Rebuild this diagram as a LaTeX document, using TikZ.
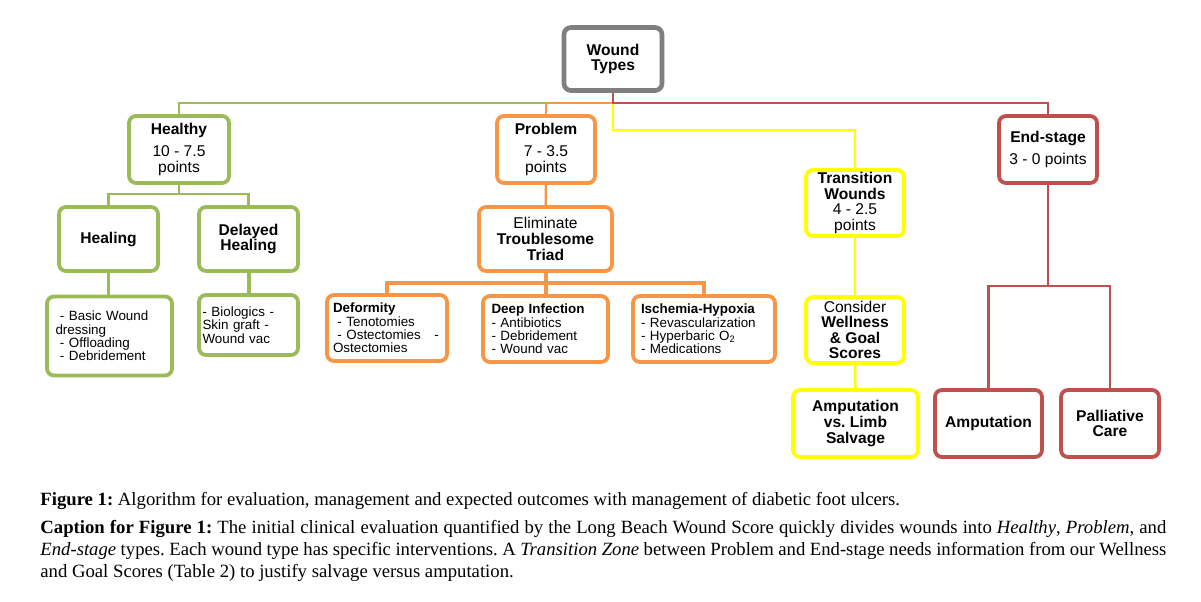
\documentclass[tikz,border=0pt]{standalone}
\usepackage{fontspec}
\setmainfont{Liberation Serif}
\setsansfont{Liberation Sans}
\definecolor{healthygreen}{HTML}{9BBB59}
\definecolor{problemorange}{HTML}{F79646}
\definecolor{transyellow}{HTML}{FFFF00}
\definecolor{endred}{HTML}{C0504D}
\definecolor{rootgray}{HTML}{7F7F7F}
\frenchspacing

\begin{document}
\begin{tikzpicture}[x=0.5pt, y=-0.5pt,
    box/.style={draw, rounded corners=3.5pt, line width=1.9pt, fill=white,
                align=center, inner sep=1pt,
                font=\sffamily\fontsize{7.8}{7.8}\selectfont},
    listbox/.style={box, align=left, font=\sffamily\fontsize{6.7}{6.7}\selectfont},
    rootbox/.style={box, draw=rootgray, line width=2.3pt},
    healthybox/.style={box, draw=healthygreen},
    problembox/.style={box, draw=problemorange},
    transbox/.style={box, draw=transyellow},
    endbox/.style={box, draw=endred},
    glink/.style={draw=healthygreen, line width=1.2pt},
    olink/.style={draw=problemorange, line width=1.2pt},
    othick/.style={draw=problemorange, line width=2pt},
    ylink/.style={draw=transyellow, line width=1.2pt},
    rlink/.style={draw=endred, line width=1.2pt},
    caption/.style={anchor=base west, inner sep=0pt, font=\fontsize{9.35}{11}\selectfont}]
  \useasboundingbox (0,0) rectangle (1201,601);
  \fill[white] (0,0) rectangle (1201,601);

  \coordinate (hub) at (613,103);
  \coordinate (hsplit) at (179,194);
  \coordinate (tsplit) at (546,283);
  \coordinate (esplit) at (1048,286);

  \draw[glink] (179,116) |- (546,103);
  \draw[olink] (546,116) |- (hub);
  \draw[ylink] (hub) -- ++(0,27) -| (855,170);
  \draw[rlink] (613,92) -- (hub) -| (1048,116);

  \node[rootbox, minimum width=49pt, minimum height=31.5pt] (root) at (613,59)
    {\textbf{Wound}\\\textbf{Types}};

  \node[healthybox, minimum width=50pt, minimum height=33.5pt] (healthy) at (179,149.5)
    {\textbf{Healthy}\\[3pt]10 - 7.5\\points};
  \node[problembox, minimum width=49pt, minimum height=33.5pt] (problem) at (546,149.5)
    {\textbf{Problem}\\[3pt]7 - 3.5\\points};
  \node[endbox, minimum width=49pt, minimum height=33.5pt] (endst) at (1048,149.5)
    {\textbf{End-stage}\\[3pt]3 - 0 points};
  \node[transbox, minimum width=49pt, minimum height=33pt, inner sep=0pt] (trans) at (855,203)
    {\textbf{Transition}\\\textbf{Wounds}\\4 - 2.5\\points};

  \node[healthybox, minimum width=49.5pt, minimum height=32pt] (healing) at (108.5,239)
    {\textbf{Healing}};
  \node[healthybox, minimum width=49.5pt, minimum height=32pt] (delayed) at (248.5,239)
    {\textbf{Delayed}\\\textbf{Healing}};
  \node[listbox, draw=healthygreen, minimum width=62.5pt, minimum height=39.5pt,
        text width=54pt] (healsub) at (109.5,336)
    {\ - Basic Wound\\dressing\\\ - Offloading\\\ - Debridement};
  \node[listbox, draw=healthygreen, minimum width=49.5pt, minimum height=30pt,
        text width=46pt] (delsub) at (248.5,325)
    {- Biologics -\\Skin graft -\\Wound vac};

  \node[problembox, minimum width=66.5pt, minimum height=32pt] (triad) at (545.5,239)
    {Eliminate\\\textbf{Troublesome}\\\textbf{Triad}};
  \node[listbox, draw=problemorange, minimum width=60pt, minimum height=33pt,
        text width=54pt] (deform) at (387,328)
    {\textbf{Deformity}\\\ - Tenotomies\\\ - Ostectomies\ \ \ -\\Ostectomies};
  \node[listbox, draw=problemorange, minimum width=62.5pt, minimum height=33pt,
        text width=54pt] (deepinf) at (545.5,329)
    {\textbf{Deep Infection}\\- Antibiotics\\- Debridement\\- Wound vac};
  \node[listbox, draw=problemorange, minimum width=71pt, minimum height=33pt,
        text width=63pt] (ischem) at (704,329)
    {\textbf{Ischemia-Hypoxia}\\- Revascularization\\- Hyperbaric O\textsubscript{2}\\- Medications};

  \node[transbox, minimum width=49pt, minimum height=33pt, inner sep=0pt] (consider) at (855,330)
    {Consider\\\textbf{Wellness}\\\textbf{\& Goal}\\\textbf{Scores}};
  \node[transbox, minimum width=62.5pt, minimum height=33.5pt] (ampvs) at (855.5,423.5)
    {\textbf{Amputation}\\\textbf{vs. Limb}\\\textbf{Salvage}};

  \node[endbox, minimum width=53.5pt, minimum height=33.5pt] (amput) at (988.5,423.5)
    {\textbf{Amputation}};
  \node[endbox, minimum width=49pt, minimum height=33.5pt] (palli) at (1110,423.5)
    {\textbf{Palliative}\\\textbf{Care}};

  \draw[glink] (healthy.south) -- (hsplit);
  \draw[glink] (healing.north) |- (hsplit) -| (delayed.north);
  \draw[glink] (healing.south) -- (healing.south |- healsub.north);
  \draw[glink, line width=2pt] (delayed.south) -- (delsub.north);

  \draw[olink] (problem) -- (triad);
  \draw[othick] (triad.south) -- (deepinf.north);
  \draw[othick] (deform.north) |- (tsplit) -| (ischem.north);

  \draw[ylink] (trans) -- (consider);
  \draw[ylink] (consider) -- (ampvs);

  \draw[rlink] (endst.south) -- (esplit);
  \draw[rlink] (amput.north) |- (esplit) -| (palli.north);

  \node[caption] (capA) at (40,505)
    {\textbf{Figure 1:} Algorithm for evaluation, management and expected outcomes with management of diabetic foot ulcers.};
  \node[caption] (capB) at (40,533)
    {\makebox[563pt][s]{\textbf{Caption for Figure 1:} The initial clinical evaluation quantified by the Long Beach Wound Score quickly divides wounds into \textit{Healthy}, \textit{Problem}, and}};
  \node[caption] (capC) at (40,555)
    {\makebox[563pt][s]{\textit{End-stage} types. Each wound type has specific interventions. A \textit{Transition Zone} between Problem and End-stage needs information from our Wellness}};
  \node[caption] (capD) at (40,577)
    {and Goal Scores (Table 2) to justify salvage versus amputation.};
\end{tikzpicture}
\end{document}
